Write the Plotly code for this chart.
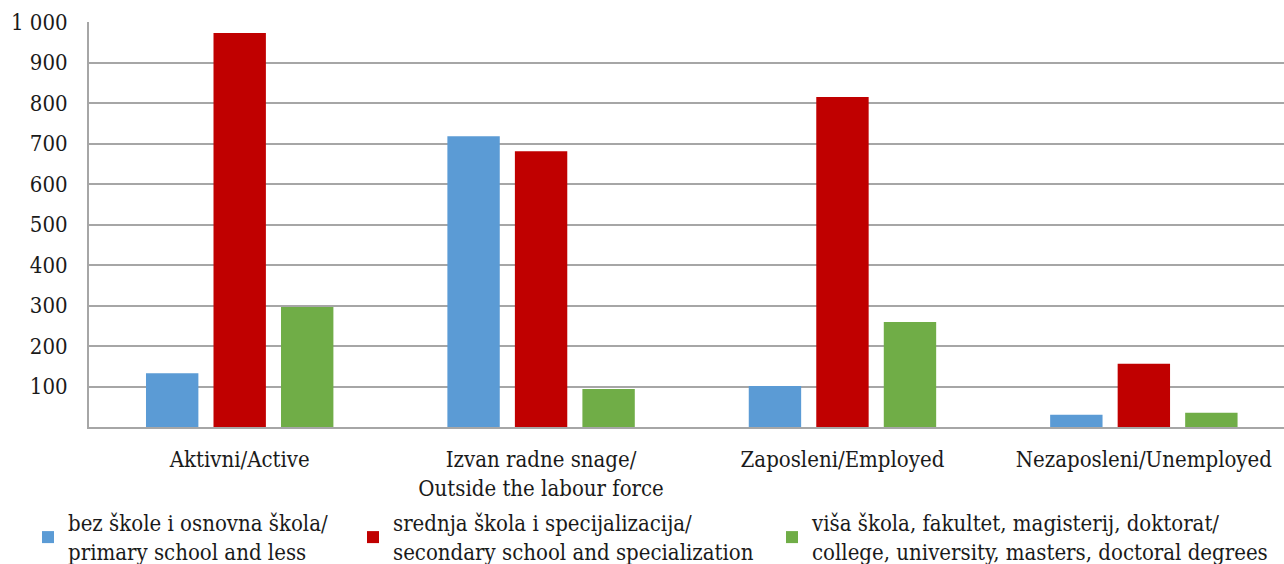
import plotly.graph_objects as go

categories = ["Aktivni/Active", "Izvan radne snage/<br>Outside the labour force",
              "Zaposleni/Employed", "Nezaposleni/Unemployed"]
series_names = ["bez škole i osnovna škola/<br>primary school and less",
                "srednja škola i specijalizacija/<br>secondary school and specialization",
                "viša škola, fakultet, magisterij, doktorat/<br>college, university, masters, doctoral degrees"]
primary = [133, 718, 101, 30]
secondary = [973, 681, 815, 156]
tertiary = [296, 94, 259, 35]
colors = ["#5b9bd5", "#c00000", "#70ad47"]
tick_vals = [100, 200, 300, 400, 500, 600, 700, 800, 900, 1000]
tick_text = ["100", "200", "300", "400", "500", "600", "700", "800", "900", "1 000"]

FONT = "DejaVu Serif Condensed, Liberation Serif, serif"
FS = 22

fig = go.Figure()
legend_ids = ["legend", "legend2", "legend3"]
for vals, name, col, lg in zip([primary, secondary, tertiary], series_names, colors, legend_ids):
    fig.add_trace(go.Bar(x=categories, y=vals, name=name, marker_color=col,
                         marker_line_width=0, legend=lg))

# body margin is removed in post_script, so figure occupies the full window
W, H = 1284, 564
plot_left, plot_top, plot_bottom = 89, 22, 427   # screen pixels
ml, mt, mr = plot_left, plot_top, 0
ph = plot_bottom - plot_top
mb = H - mt - ph
pw = W - ml - mr

def lx(sx):
    return (sx - plot_left) / pw

def ly(sy):
    return (plot_bottom - sy) / ph

legend_common = dict(orientation="v", xanchor="left", yanchor="top",
                     font=dict(family=FONT, size=FS, color="#1a1a1a"),
                     bgcolor="rgba(0,0,0,0)", itemwidth=30, tracegroupgap=0)

fig.update_layout(
    width=W, height=H,
    margin=dict(l=ml, r=mr, t=mt, b=mb, autoexpand=False),
    paper_bgcolor="white", plot_bgcolor="white",
    showlegend=True,
    barmode="group", bargap=0.328, bargroupgap=0.224,
    font=dict(family=FONT, size=FS, color="#1a1a1a"),
    legend=dict(x=lx(28), y=ly(502), **legend_common),
    legend2=dict(x=lx(353), y=ly(502), **legend_common),
    legend3=dict(x=lx(772), y=ly(502), **legend_common),
    xaxis=dict(range=[-0.5, 3.465], showline=True, linecolor="#a6a6a6", linewidth=2,
               showgrid=False, ticks="", ticklabelstandoff=12,
               tickfont=dict(family=FONT, size=FS, color="#1a1a1a")),
    yaxis=dict(range=[0, 1000], tickvals=tick_vals, ticktext=tick_text,
               showline=True, linecolor="#a6a6a6", linewidth=2,
               showgrid=True, gridcolor="#a6a6a6", gridwidth=2,
               ticks="", ticklabelstandoff=15, zeroline=False,
               tickfont=dict(family=FONT, size=FS, color="#1a1a1a")),
)

fig.write_html("out.html", config={"displayModeBar": False},
               post_script="document.body.style.margin='0';document.body.style.overflow='hidden';")
